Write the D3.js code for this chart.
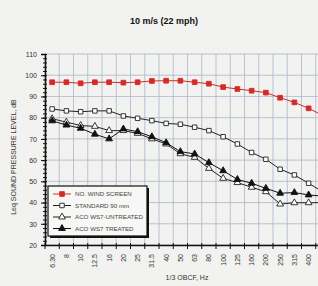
<!DOCTYPE html>
<html>
<head>
<meta charset="utf-8">
<script src="https://cdn.jsdelivr.net/npm/d3@7"></script>
<style>
  body { margin: 0; background: #f2f2f0; }
  svg { display: block; font-family: "Liberation Sans", Arial, sans-serif; }
</style>
</head>
<body>
<div id="chart"></div>
<script>
// 1/3 octave band centre frequencies (last one is cut off by the frame)
const bands = ["6.30", "8", "10", "12.5", "16", "20", "25", "31.5", "40", "50", "63", "80", "100", "125", "160", "200", "250", "315", "400", "500"];
const yTicks = [20, 30, 40, 50, 60, 70, 80, 90, 100, 110];

const noScreen = [96.7, 96.7, 96.2, 96.7, 96.7, 96.5, 96.7, 97.3, 97.4, 97.4, 96.7, 96.0, 94.4, 93.5, 92.7, 91.8, 89.4, 87.2, 84.4, 81.0];
const standard90 = [84.1, 83.2, 82.8, 83.2, 83.2, 80.8, 79.7, 78.6, 77.3, 76.9, 75.5, 73.9, 71.0, 67.6, 63.6, 60.4, 55.7, 53.0, 49.1, 45.0];
const acoUntreated = [79.5, 77.9, 76.3, 75.9, 73.9, 73.9, 72.6, 70.0, 67.6, 63.0, 61.3, 56.1, 51.4, 49.4, 47.2, 45.1, 39.3, 39.9, 39.9, 40.0];
const acoTreated = [78.5, 76.5, 75.0, 72.2, 70.0, 74.7, 73.4, 71.0, 68.2, 64.0, 62.9, 58.8, 55.0, 50.9, 49.1, 46.7, 44.4, 44.7, 43.6, 43.0];

const series = [
  { name: "NO. WIND SCREEN", values: noScreen, color: "#d42a2a", shape: d3.symbolSquare, fill: "#d42a2a", size: 22 },
  { name: "STANDARD 90 mm", values: standard90, color: "#222", shape: d3.symbolSquare, fill: "#fff", size: 20 },
  { name: "ACO WS7-UNTREATED", values: acoUntreated, color: "#222", shape: d3.symbolTriangle, fill: "#fff", size: 20 },
  { name: "ACO WS7 TREATED", values: acoTreated, color: "#111", shape: d3.symbolTriangle, fill: "#111", size: 20 }
];

const W = 318, H = 286;
const svg = d3.select("#chart").append("svg").attr("width", W).attr("height", H);

const x = d3.scaleBand().domain(bands).range([45, 330]);
const y = d3.scaleLinear().domain([20, 110]).range([245, 54]);

// grid
const grid = svg.append("g").attr("stroke", "#aab6cc").attr("stroke-width", 0.8);
grid.selectAll(".gy").data(yTicks).enter().append("line")
  .attr("x1", 45).attr("x2", W).attr("y1", d => y(d)).attr("y2", d => y(d));
grid.selectAll(".gx").data(bands.slice(1)).enter().append("line")
  .attr("x1", d => x(d)).attr("x2", d => x(d)).attr("y1", y(110)).attr("y2", y(20));

// y axis
const yAxis = svg.append("g").attr("transform", "translate(45,0)")
  .call(d3.axisLeft(y).tickValues(yTicks).tickSize(4).tickPadding(4));
yAxis.select(".domain").attr("stroke", "#111").attr("stroke-width", 1.6);
yAxis.selectAll("text").attr("font-size", "7px").attr("fill", "#333");
svg.append("g").attr("transform", "translate(45,0)")
  .call(d3.axisLeft(y).tickValues(d3.range(20, 111, 2)).tickSize(2).tickFormat(""))
  .call(g => g.select(".domain").remove())
  .selectAll("line").attr("x2", 2).attr("x1", -2).attr("stroke", "#111");

// x axis (the 500 Hz label falls outside the frame)
const xAxis = svg.append("g").attr("transform", `translate(0,${y(20)})`)
  .call(d3.axisBottom(x).tickSize(0).tickPadding(0).tickFormat(d => d === "500" ? "" : d));
xAxis.select(".domain").attr("stroke", "#111").attr("stroke-width", 1.6);
xAxis.selectAll("text")
  .attr("font-size", "7px").attr("fill", "#333")
  .attr("transform", "rotate(-90)")
  .attr("text-anchor", "end")
  .attr("x", -9).attr("y", 0).attr("dy", "0.35em");
svg.append("g").selectAll("line").data(bands).enter().append("line")
  .attr("x1", d => x(d)).attr("x2", d => x(d))
  .attr("y1", y(20) - 2).attr("y2", y(20) + 4)
  .attr("stroke", "#111");

// series
const line = d3.line().x((d, i) => x(bands[i]) + x.bandwidth() / 2).y(d => y(d));
series.forEach(s => {
  svg.append("path").datum(s.values)
    .attr("d", line).attr("fill", "none")
    .attr("stroke", s.color).attr("stroke-width", 1);
  svg.append("g").selectAll("path").data(s.values).enter().append("path")
    .attr("transform", (d, i) => `translate(${x(bands[i]) + x.bandwidth() / 2},${y(d)})`)
    .attr("d", d3.symbol().type(s.shape).size(s.size))
    .attr("fill", s.fill).attr("stroke", s.color).attr("stroke-width", 0.9);
});

// legend
const lg = svg.append("g");
lg.append("rect").attr("x", 50).attr("y", 188).attr("width", 99).attr("height", 50).attr("fill", "#111");
lg.append("rect").attr("x", 48).attr("y", 186).attr("width", 99).attr("height", 50)
  .attr("fill", "#f7f7f5").attr("stroke", "#111").attr("stroke-width", 1.2);
series.forEach((s, i) => {
  const ly = 194 + i * 11.5;
  lg.append("line").attr("x1", 53).attr("x2", 71).attr("y1", ly).attr("y2", ly)
    .attr("stroke", s.color).attr("stroke-width", 1);
  lg.append("path").attr("transform", `translate(62,${ly})`)
    .attr("d", d3.symbol().type(s.shape).size(s.size))
    .attr("fill", s.fill).attr("stroke", s.color).attr("stroke-width", 0.9);
  lg.append("text").attr("x", 75).attr("y", ly).attr("dy", "0.35em")
    .attr("font-size", "6.2px").attr("fill", "#444").text(s.name);
});

// titles
svg.append("text").attr("x", 164).attr("y", 24).attr("text-anchor", "middle")
  .attr("font-size", "9px").attr("font-weight", "bold").attr("fill", "#111")
  .text("10 m/s (22 mph)");
svg.append("text").attr("x", 187).attr("y", 280).attr("text-anchor", "middle")
  .attr("font-size", "7px").attr("fill", "#333").text("1/3 OBCF, Hz");
svg.append("text").attr("transform", "translate(16,157) rotate(-90)")
  .attr("text-anchor", "middle").attr("font-size", "7px").attr("fill", "#333")
  .text("Leq SOUND PRESSURE LEVEL, dB");
</script>
</body>
</html>
